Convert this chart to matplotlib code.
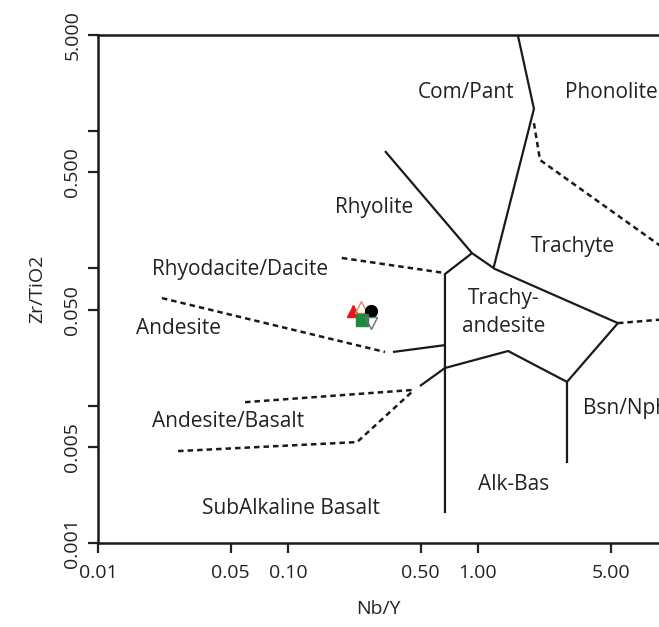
import matplotlib

matplotlib.use("Agg")
import matplotlib.pyplot as plt

plt.rcParams["font.family"] = ["Open Sans", "DejaVu Sans"]

# ── 分类边界（Nb/Y, Zr/TiO2） ──
solid_lines = {
    "compant": ([1.62, 1.97, 1.21], [5.0, 1.45, 0.102]),
    "rhyolite": ([0.324, 0.93, 1.23, 5.45], [0.714, 0.129, 0.0988, 0.0399]),
    "trachyand_left": ([0.93, 0.67, 0.67], [0.129, 0.0908, 0.00165]),
    "andesite_stub": ([0.357, 0.67], [0.0246, 0.0276]),
    "trachyand_base": ([0.495, 0.67, 1.44, 2.94, 5.45], [0.0139, 0.0188, 0.0250, 0.0149, 0.0399]),
    "bsn_nph": ([2.94, 2.94], [0.0149, 0.00382]),
}
dashed_lines = {
    "phonolite": ([1.97, 2.12, 9.5], [1.14, 0.615, 0.140]),
    "trachyte": ([5.45, 9.5], [0.0399, 0.0425]),
    "rhyodacite": ([0.192, 0.67], [0.119, 0.0924]),
    "andesite": ([0.0217, 0.324], [0.0607, 0.0246]),
    "andbas_upper": ([0.0594, 0.449], [0.0106, 0.0130]),
    "andbas_lower": ([0.0264, 0.231, 0.449], [0.00467, 0.00543, 0.0126]),
}

field_names = ["Com/Pant", "Phonolite", "Rhyolite", "Trachyte", "Rhyodacite/Dacite",
               "Trachy-\nandesite", "Andesite", "Andesite/Basalt", "Bsn/Nph",
               "Alk-Bas", "SubAlkaline Basalt"]
field_x = [0.865, 2.87, 0.284, 3.16, 0.0559, 1.37, 0.0264, 0.0483, 3.57, 1.547, 0.1037]
field_y = [1.91, 1.91, 0.279, 0.143, 0.0988, 0.0476, 0.0367, 0.00772, 0.00950, 0.00268, 0.00177]
field_ha = ["center", "left", "center", "center", "center", "center", "center",
            "center", "left", "center", "center"]

# ── 样品点 ──
sample_x = [0.220, 0.242, 0.273, 0.245, 0.273]
sample_y = [0.0488, 0.0522, 0.0488, 0.0420, 0.0399]
sample_marker = ["^", "^", "o", "s", "v"]
sample_face = ["#e8141c", "none", "black", "#1e8a3c", "none"]
sample_edge = ["#e8141c", "#f08060", "black", "#1e8a3c", "#707070"]

x_ticks = [0.01, 0.05, 0.1, 0.5, 1.0, 5.0]
x_ticklabels = ["0.01", "0.05", "0.10", "0.50", "1.00", "5.00"]
y_ticks = [5.0, 1.0, 0.5, 0.1, 0.05, 0.01, 0.005, 0.001]
y_ticklabels = ["5.000", "", "0.500", "", "0.050", "", "0.005", "0.001"]

fig = plt.figure(figsize=(6.59, 6.27), dpi=100)
ax = fig.add_axes([98 / 659, 1 - 543 / 627, 561 / 659, 508 / 627])
ax.set_xscale("log")
ax.set_yscale("log")
ax.set_xlim(0.01, 10 ** (561 / 190 - 2))
ax.set_ylim(0.001, 5.0)

for xs, ys in solid_lines.values():
    ax.plot(xs, ys, color="#1a1a1a", lw=1.6, solid_capstyle="butt")
for xs, ys in dashed_lines.values():
    ax.plot(xs, ys, color="#1a1a1a", lw=1.8, linestyle=(0, (2.2, 1.6)))

for name, x, y, ha in zip(field_names, field_x, field_y, field_ha):
    ax.text(x, y, name, ha=ha, va="center", fontsize=15, color="#222222",
            linespacing=1.4, clip_on=True)

for x, y, m, fc, ec in zip(sample_x, sample_y, sample_marker, sample_face, sample_edge):
    ax.plot([x], [y], marker=m, markersize=8.5, markerfacecolor=fc,
            markeredgecolor=ec, markeredgewidth=1.0, linestyle="none", zorder=5)

ax.set_xticks(x_ticks)
ax.set_xticklabels(x_ticklabels)
ax.set_yticks(y_ticks)
ax.set_yticklabels(y_ticklabels, rotation=90, va="center")
ax.minorticks_off()
ax.tick_params(axis="both", direction="out", length=7, width=1.6,
               labelsize=14, colors="#222222")
ax.tick_params(axis="x", pad=8)
ax.tick_params(axis="y", pad=5)

for side in ("left", "top", "bottom"):
    ax.spines[side].set_linewidth(1.8)
    ax.spines[side].set_color("#1a1a1a")
ax.spines["right"].set_visible(False)

ax.set_xlabel("Nb/Y", fontsize=14, color="#222222", labelpad=13)
ax.set_ylabel("Zr/TiO2", fontsize=14, color="#222222", labelpad=12)

fig.savefig("out.png", dpi=100)
